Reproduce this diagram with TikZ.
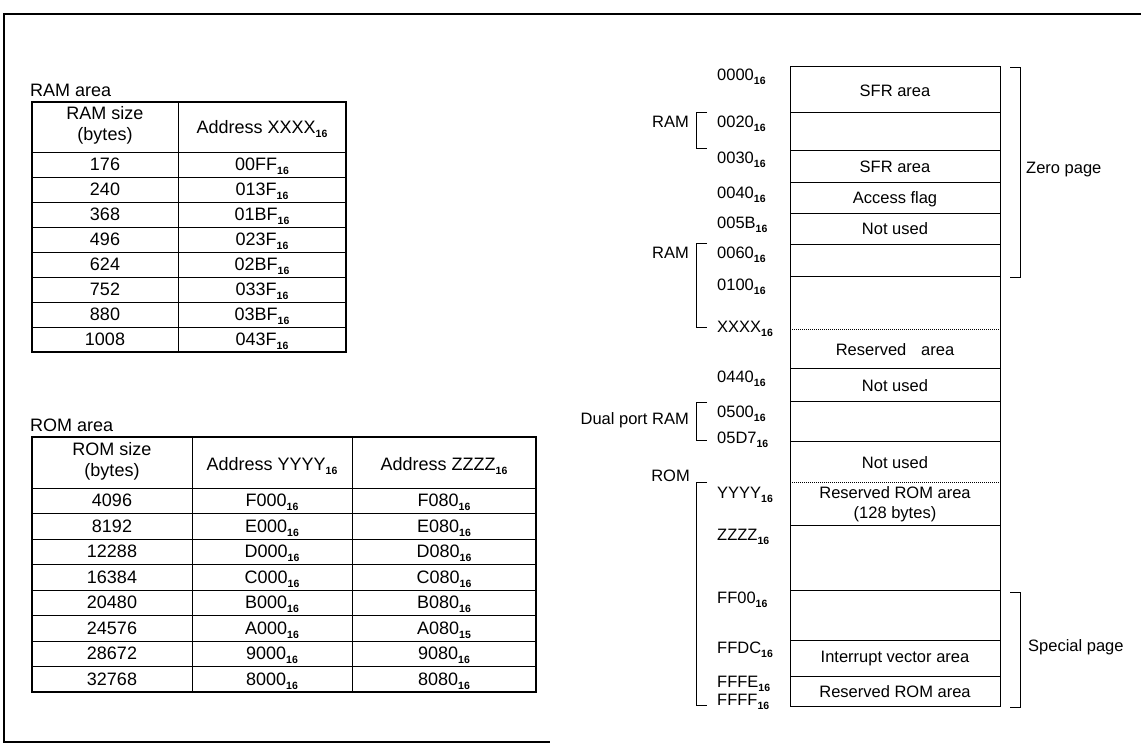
\documentclass[tikz,border=0pt]{standalone}
\usepackage{fontspec}
\setmainfont{Liberation Sans}
\newcommand{\hx}[1]{\raisebox{-0.4ex}[0pt][0pt]{\fontsize{10.5}{10.5}\selectfont\bfseries #1}}
\begin{document}
\begin{tikzpicture}[x=1pt,y=-1pt,
  every node/.style={inner sep=0pt},
  tfont/.style={font=\fontsize{18}{21}\selectfont},
  mfont/.style={font=\fontsize{16.5}{20}\selectfont},
  outer/.style={line width=1.6pt},
  tbord/.style={line width=1.6pt},
  tgrid/.style={line width=0.8pt},
  mline/.style={line width=1pt},
  mdot/.style={line width=1pt, densely dotted},
  brk/.style={line width=1pt},
  addr/.style={mfont, anchor=west},
  lab/.style={mfont},
  side/.style={mfont, anchor=east}]
\useasboundingbox (0,0) rectangle (1141,747);

% outer frame
\draw[outer] (1141,14) -- (4,14) -- (4,742) -- (550,742);

% ---------------- RAM table ----------------
\node[tfont, anchor=west] (ramtitle) at (30,90) {RAM area};
\draw[tgrid] (178,102) -- (178,352);
\foreach \y in {152,177,...,327} \draw[tgrid] (32,\y) -- (346,\y);
\draw[tbord] (32,102) rectangle (346,352);
\node[tfont, align=center] (ramh1) at (105,125) {RAM size\\(bytes)};
\node[tfont] (ramh2) at (262,127) {Address XXXX\hx{16}};
\foreach \s/\a [count=\i] in {176/00FF,240/013F,368/01BF,496/023F,624/02BF,752/033F,880/03BF,1008/043F}{
  \node[tfont] (rams\i) at (105,{152+25*\i-12.5}) {\s};
  \node[tfont] (rama\i) at (262,{152+25*\i-12.5}) {\a\hx{16}};
}

% ---------------- ROM table ----------------
\node[tfont, anchor=west] (romtitle) at (30,425) {ROM area};
\draw[tgrid] (192,437) -- (192,692);
\draw[tgrid] (352,437) -- (352,692);
\foreach \i in {0,...,7} \draw[tgrid] (32,{488+25.5*\i}) -- (536,{488+25.5*\i});
\draw[tbord] (32,437) rectangle (536,692);
\node[tfont, align=center] (romh1) at (112,461) {ROM size\\(bytes)};
\node[tfont] (romh2) at (272,464) {Address YYYY\hx{16}};
\node[tfont] (romh3) at (444,464) {Address ZZZZ\hx{16}};
\foreach \s/\a/\b/\c [count=\i] in {4096/F000/F080/16,8192/E000/E080/16,12288/D000/D080/16,16384/C000/C080/16,20480/B000/B080/16,24576/A000/A080/15,28672/9000/9080/16,32768/8000/8080/16}{
  \node[tfont] (roms\i) at (112,{488+25.5*\i-12.75}) {\s};
  \node[tfont] (romy\i) at (272,{488+25.5*\i-12.75}) {\a\hx{16}};
  \node[tfont] (romz\i) at (444,{488+25.5*\i-12.75}) {\b\hx{\c}};
}

% ---------------- memory map ----------------
\draw[mline] (790,66) rectangle (1000,706);
\foreach \y in {112,150,182,213,244,276,368,401,441,525,590,640,676}
  \draw[mline] (790,\y) -- (1000,\y);
\draw[mdot] (790,329) -- (1000,329);
\draw[mdot] (790,482) -- (1000,482);

\node[lab] (sfr1) at (895,91) {SFR area};
\node[lab] (sfr2) at (895,167) {SFR area};
\node[lab] (acc) at (895,199) {Access flag};
\node[lab] (nu1) at (895,229) {Not used};
\node[lab] (res) at (895,350) {Reserved\hspace{0.9em}area};
\node[lab] (nu2) at (895,386) {Not used};
\node[lab] (nu3) at (895,463) {Not used};
\node[lab, align=center] (rrom) at (895,504) {Reserved ROM area\\(128 bytes)};
\node[lab] (ivec) at (895,659) {Interrupt vector area};
\node[lab] (rrom2) at (895,692) {Reserved ROM area};

% addresses
\node[addr] (a0000) at (717,75) {0000\hx{16}};
\node[addr] (a0020) at (717,122) {0020\hx{16}};
\node[addr] (a0030) at (717,158) {0030\hx{16}};
\node[addr] (a0040) at (717,193) {0040\hx{16}};
\node[addr] (a005B) at (717,223) {005B\hx{16}};
\node[addr] (a0060) at (717,253) {0060\hx{16}};
\node[addr] (a0100) at (717,285) {0100\hx{16}};
\node[addr] (aXXXX) at (717,327) {XXXX\hx{16}};
\node[addr] (a0440) at (717,377) {0440\hx{16}};
\node[addr] (a0500) at (717,412) {0500\hx{16}};
\node[addr] (a05D7) at (717,438) {05D7\hx{16}};
\node[addr] (aYYYY) at (717,493) {YYYY\hx{16}};
\node[addr] (aZZZZ) at (717,535) {ZZZZ\hx{16}};
\node[addr] (aFF00) at (717,598) {FF00\hx{16}};
\node[addr] (aFFDC) at (717,648) {FFDC\hx{16}};
\node[addr] (aFFFE) at (717,682) {FFFE\hx{16}};
\node[addr] (aFFFF) at (717,700) {FFFF\hx{16}};

% left brackets
\draw[brk] (707,112) -- (696,112) -- (696,148) -- (707,148);
\node[side] (ram1) at (689,122) {RAM};
\draw[brk] (707,243) -- (696,243) -- (696,327) -- (707,327);
\node[side] (ram2) at (689,253) {RAM};
\draw[brk] (707,402) -- (696,402) -- (696,440) -- (707,440);
\node[side] (dpram) at (689,420) {Dual port RAM};
\draw[brk] (707,482) -- (696,482) -- (696,705) -- (707,705);
\node[side] (rom) at (690,476) {ROM};

% right brackets
\draw[brk] (1010,67) -- (1020,67) -- (1020,277) -- (1010,277);
\node[mfont, anchor=west] (zp) at (1026,170) {Zero page};
\draw[brk] (1010,592) -- (1020,592) -- (1020,707) -- (1010,707);
\node[mfont, anchor=west] (sp) at (1028,647) {Special page};
\end{tikzpicture}
\end{document}
